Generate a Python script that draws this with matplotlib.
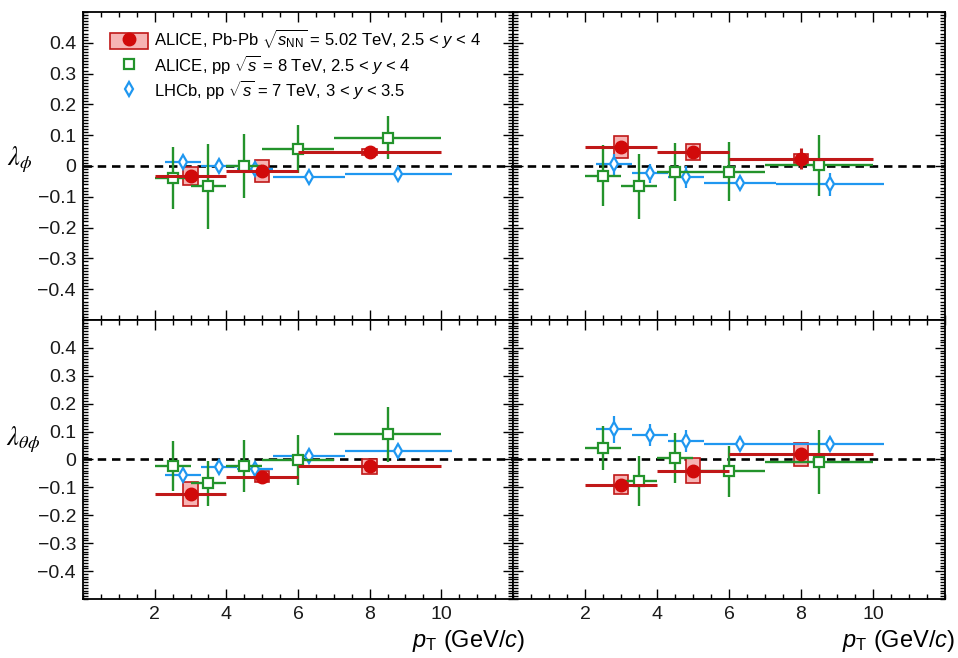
import numpy as np
import matplotlib
matplotlib.use("Agg")
import matplotlib.pyplot as plt
from matplotlib.patches import Rectangle
from matplotlib.lines import Line2D
from matplotlib.ticker import FixedLocator, MultipleLocator

plt.rcParams['font.family'] = ['Liberation Sans', 'DejaVu Sans']
plt.rcParams['mathtext.fontset'] = 'custom'
plt.rcParams['mathtext.rm'] = 'Liberation Sans'
plt.rcParams['mathtext.it'] = 'Liberation Sans:italic'
plt.rcParams['mathtext.bf'] = 'Liberation Sans:bold'
plt.rcParams['mathtext.sf'] = 'Liberation Sans'

# ---- pT binning (GeV/c) ----
pbpb_pt = [3.0, 5.0, 8.0]
pbpb_pt_hw = [1.0, 1.0, 2.0]
pp_pt = [2.5, 3.5, 4.5, 6.0, 8.5]
pp_pt_hw = [0.5, 0.5, 0.5, 1.0, 1.5]
lhcb_pt = [2.5, 3.5, 4.5, 6.0, 8.5]
lhcb_pt_hw = [0.5, 0.5, 0.5, 1.0, 1.5]
lhcb_shift = 0.3          # LHCb points displaced for visibility
syst_box_hw = 0.2         # half width of the systematic boxes

# ---- lambda_phi, helicity frame ----
hx_phi_pbpb = [-0.033, -0.015, 0.046]
hx_phi_pbpb_stat = [0.015, 0.012, 0.010]
hx_phi_pbpb_syst = [0.030, 0.036, 0.010]
hx_phi_pp = [-0.038, -0.066, 0.000, 0.054, 0.092]
hx_phi_pp_err = [0.100, 0.139, 0.105, 0.078, 0.069]
hx_phi_lhcb = [0.012, 0.000, -0.010, -0.035, -0.026]
hx_phi_lhcb_err = [0.020, 0.018, 0.015, 0.016, 0.020]

# ---- lambda_phi, Collins-Soper frame ----
cs_phi_pbpb = [0.061, 0.046, 0.024]
cs_phi_pbpb_stat = [0.015, 0.015, 0.035]
cs_phi_pbpb_syst = [0.035, 0.025, 0.015]
cs_phi_pp = [-0.031, -0.066, -0.020, -0.018, 0.002]
cs_phi_pp_err = [0.100, 0.105, 0.095, 0.095, 0.098]
cs_phi_lhcb = [0.005, -0.024, -0.035, -0.054, -0.060]
cs_phi_lhcb_err = [0.035, 0.030, 0.035, 0.020, 0.037]

# ---- lambda_thetaphi, helicity frame ----
hx_tp_pbpb = [-0.124, -0.062, -0.025]
hx_tp_pbpb_stat = [0.015, 0.012, 0.010]
hx_tp_pbpb_syst = [0.044, 0.020, 0.027]
hx_tp_pp = [-0.024, -0.085, -0.024, -0.002, 0.090]
hx_tp_pp_err = [0.090, 0.080, 0.093, 0.090, 0.099]
hx_tp_lhcb = [-0.054, -0.026, -0.033, 0.011, 0.030]
hx_tp_lhcb_err = [0.020, 0.020, 0.020, 0.015, 0.024]

# ---- lambda_thetaphi, Collins-Soper frame ----
cs_tp_pbpb = [-0.090, -0.040, 0.018]
cs_tp_pbpb_stat = [0.010, 0.015, 0.015]
cs_tp_pbpb_syst = [0.033, 0.045, 0.042]
cs_tp_pp = [0.042, -0.077, 0.006, -0.043, -0.009]
cs_tp_pp_err = [0.078, 0.090, 0.090, 0.090, 0.113]
cs_tp_lhcb = [0.108, 0.087, 0.066, 0.057, 0.055]
cs_tp_lhcb_err = [0.048, 0.040, 0.040, 0.027, 0.026]

y_ticks = [0.4, 0.3, 0.2, 0.1, 0.0, -0.1, -0.2, -0.3, -0.4]
y_tick_labels = ['0.4', '0.3', '0.2', '0.1', '0', '\u22120.1', '\u22120.2', '\u22120.3', '\u22120.4']
x_ticks = [2, 4, 6, 8, 10]
x_tick_labels = ['2', '4', '6', '8', '10']

legend_labels = [
    r'ALICE, Pb-Pb $\sqrt{s_{\rm NN}}$ = 5.02 TeV, 2.5 < $y$ < 4',
    r'ALICE, pp $\sqrt{s}$ = 8 TeV, 2.5 < $y$ < 4',
    r'LHCb, pp $\sqrt{s}$ = 7 TeV, 3 < $y$ < 3.5',
]

RED = '#d10a0a'
RED_LINE = '#c01818'
PINK = '#f6b4b4'
GREEN = '#23932b'
BLUE = '#1f97f0'

W, H = 958, 658
fig = plt.figure(figsize=(W / 100, H / 100), dpi=100)


def px_axes(x0, y0, x1, y1):
    return fig.add_axes([x0 / W, 1 - y1 / H, (x1 - x0) / W, (y1 - y0) / H])


def draw_panel(ax, pbpb, pbpb_stat, pbpb_syst, pp, pp_err, lhcb, lhcb_err,
               show_xlabels, show_ylabels):
    ax.set_xlim(0, 12)
    ax.set_ylim(-0.5, 0.5)
    ax.axhline(0, color='black', lw=1.9, ls=(0, (3.2, 2.2)), zorder=1)

    for x, y, s in zip(pbpb_pt, pbpb, pbpb_syst):
        ax.add_patch(Rectangle((x - syst_box_hw, y - s), 2 * syst_box_hw, 2 * s,
                               facecolor=PINK, edgecolor=RED_LINE, lw=1.2, zorder=2))

    lx = [p + lhcb_shift for p in lhcb_pt]
    ax.errorbar(lx, lhcb, xerr=lhcb_pt_hw, yerr=lhcb_err, fmt='d', ms=7.5,
                mfc='white', mec=BLUE, mew=1.6, color=BLUE, elinewidth=1.6,
                capsize=0, zorder=3)
    ax.errorbar(pp_pt, pp, xerr=pp_pt_hw, yerr=pp_err, fmt='s', ms=6.5,
                mfc='white', mec=GREEN, mew=1.6, color=GREEN, elinewidth=1.7,
                capsize=0, zorder=4)
    ax.errorbar(pbpb_pt, pbpb, xerr=pbpb_pt_hw, yerr=pbpb_stat, fmt='o', ms=9,
                mfc=RED, mec=RED, color=RED_LINE, elinewidth=2.2,
                capsize=0, zorder=5)

    ax.yaxis.set_major_locator(FixedLocator(y_ticks))
    ax.yaxis.set_minor_locator(MultipleLocator(0.01))
    ax.xaxis.set_major_locator(FixedLocator(x_ticks))
    ax.xaxis.set_minor_locator(MultipleLocator(0.5))
    ax.tick_params(which='both', direction='in', top=True, right=True,
                   width=1.0, colors='black', labelcolor='#1a1a1a',
                   labelsize=14)
    ax.tick_params(which='major', length=7)
    ax.tick_params(which='minor', length=3.5)
    ax.tick_params(axis='x', pad=5)
    ax.tick_params(axis='y', pad=5)
    if show_ylabels:
        ax.set_yticklabels(y_tick_labels)
    else:
        ax.set_yticklabels([])
    if show_xlabels:
        ax.set_xticklabels(x_tick_labels)
    else:
        ax.set_xticklabels([])
    for sp in ax.spines.values():
        sp.set_linewidth(1.3)


ax_tl = px_axes(83, 12, 513, 320)
ax_tr = px_axes(513, 12, 945, 320)
ax_bl = px_axes(83, 320, 513, 599)
ax_br = px_axes(513, 320, 945, 599)

draw_panel(ax_tl, hx_phi_pbpb, hx_phi_pbpb_stat, hx_phi_pbpb_syst,
           hx_phi_pp, hx_phi_pp_err, hx_phi_lhcb, hx_phi_lhcb_err, False, True)
draw_panel(ax_tr, cs_phi_pbpb, cs_phi_pbpb_stat, cs_phi_pbpb_syst,
           cs_phi_pp, cs_phi_pp_err, cs_phi_lhcb, cs_phi_lhcb_err, False, False)
draw_panel(ax_bl, hx_tp_pbpb, hx_tp_pbpb_stat, hx_tp_pbpb_syst,
           hx_tp_pp, hx_tp_pp_err, hx_tp_lhcb, hx_tp_lhcb_err, True, True)
draw_panel(ax_br, cs_tp_pbpb, cs_tp_pbpb_stat, cs_tp_pbpb_syst,
           cs_tp_pp, cs_tp_pp_err, cs_tp_lhcb, cs_tp_lhcb_err, True, False)

# legend
h_pbpb = (Rectangle((0, 0), 1, 1, facecolor=PINK, edgecolor=RED_LINE, lw=1.2),
          Line2D([], [], ls='none', marker='o', ms=9, mfc=RED, mec=RED))
h_pp = Line2D([], [], ls='none', marker='s', ms=6.5, mfc='white', mec=GREEN, mew=1.6)
h_lhcb = Line2D([], [], ls='none', marker='d', ms=7.5, mfc='white', mec=BLUE, mew=1.6)
ax_tl.legend([h_pbpb, h_pp, h_lhcb], legend_labels, loc='upper left',
             bbox_to_anchor=(0.062, 0.948), frameon=False, fontsize=12,
             handlelength=2.3, handleheight=1.1, handletextpad=0.35,
             labelspacing=0.12, borderpad=0, borderaxespad=0)

# axis titles
fig.text(20 / W, 1 - 160 / H, r'$\lambda_{\phi}$', math_fontfamily='stix',
         fontsize=19, ha='center', va='center')
fig.text(23 / W, 1 - 440 / H, r'$\lambda_{\theta\phi}$', math_fontfamily='stix',
         fontsize=19, ha='center', va='center')
for xr in (525, 955):
    fig.text(xr / W, 1 - 641 / H, r'$p_{\rm T}$ (GeV/$c$)', fontsize=17,
             ha='right', va='center')

fig.savefig('out.png', dpi=100)
